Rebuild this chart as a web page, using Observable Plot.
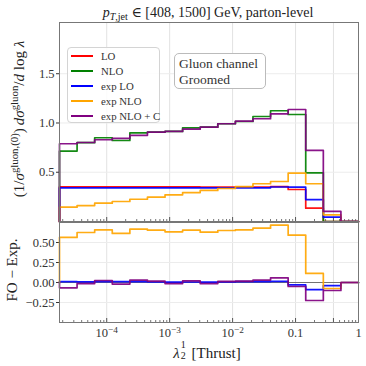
<!DOCTYPE html>
<html><head><meta charset="utf-8">
<script src="https://cdn.jsdelivr.net/npm/d3@7"></script>
<script src="https://cdn.jsdelivr.net/npm/@observablehq/plot@0.6"></script>
<style>
body{margin:0;background:#fff;}
#c{position:relative;width:366px;height:366px;font-family:"Liberation Serif","DejaVu Serif",serif;color:#222;overflow:hidden;}
#c svg{position:absolute;left:0;overflow:visible;background:transparent;}
.lbl{position:absolute;white-space:nowrap;transform:translate(-50%,-50%);}
.rot{transform:translate(-50%,-50%) rotate(-90deg);}
#legend{position:absolute;left:67px;top:47px;width:93px;height:76px;border:1px solid #d4d4d4;border-radius:4px;background:rgba(255,255,255,0.85);box-sizing:border-box;}
.item{position:absolute;left:3px;height:14px;font-size:10.8px;line-height:14px;color:#333;}
.item span.sw{position:absolute;left:0;top:6px;width:22px;height:2px;}
.item span.tx{position:absolute;left:30px;top:0;white-space:nowrap;}
#tbox{position:absolute;left:174px;top:53px;width:92px;height:36px;border:1px solid #bbb;border-radius:5px;box-sizing:border-box;font-size:13.5px;line-height:15.5px;padding:2px 0 0 4px;color:#333;background:#fff;}
sub,sup{font-size:72%;line-height:0;}
.stack{position:relative;display:inline-block;width:8px;height:15px;}
.stack span{position:absolute;left:1px;font-size:10px;line-height:10px;}
</style></head><body><div id="c"></div>
<script>
// bin edges (log-spaced), 17 bins
const edges = [1.778e-5, 3.383e-5, 6.437e-5, 1.225e-4, 2.332e-4, 4.437e-4, 8.443e-4, 1.606e-3, 3.057e-3, 5.817e-3, 1.107e-2, 2.106e-2, 4.008e-2, 7.630e-2, 0.1451, 0.2762, 0.5256, 1];

// top panel series
const LO      = [0.352,0.352,0.352,0.352,0.352,0.352,0.352,0.352,0.350,0.348,0.348,0.350,0.355,0.325,0.135,0.0,0.0];
const NLO     = [0.715,0.800,0.850,0.822,0.900,0.907,0.914,0.951,0.957,0.992,1.015,1.066,1.124,1.086,0.494,0.0,0.0];
const expLO   = [0.342,0.342,0.342,0.342,0.342,0.342,0.342,0.342,0.342,0.342,0.342,0.342,0.350,0.348,0.223,0.044,0.0];
const expNLO  = [0.145,0.162,0.186,0.203,0.226,0.247,0.271,0.294,0.315,0.335,0.355,0.383,0.406,0.492,0.383,0.068,0.0];
const expNLOC = [0.789,0.802,0.830,0.843,0.875,0.907,0.914,0.937,0.957,0.992,1.018,1.043,1.093,1.137,0.721,0.102,0.0];

// bottom panel series (FO - Exp.)
const diffLO   = [0.012,0.008,0.012,0.010,0.010,0.006,0.004,0.006,0.005,0.006,0.010,0.010,0.015,-0.030,-0.090,-0.040,0.0];
const diffNLO  = [0.563,0.625,0.658,0.613,0.667,0.654,0.633,0.654,0.629,0.650,0.658,0.679,0.717,0.592,0.113,-0.075,0.0];
const diffNLOC = [-0.067,-0.013,0.025,-0.020,0.030,0.017,-0.013,0.020,-0.013,0.013,0.017,0.030,0.058,-0.050,-0.225,-0.100,0.0];

const seriesNames  = ["LO", "NLO", "exp LO", "exp NLO", "exp NLO + C"];
const seriesColors = ["#ff0000", "#008000", "#0000ff", "#ffa500", "#800080"];

const xTicks = [1e-4, 1e-3, 1e-2, 0.1, 0.4, 1];
const xTickLabels = ["10^−4", "10^−3", "10^−2", "0.1", "0.4", "1"];
const yTopTicks = [0.5, 1.0, 1.5];
const yBotTicks = [-0.25, 0, 0.25, 0.5];

const title = "<i>p</i><sub><i>T</i>,jet</sub> ∈ [408, 1500] GeV, parton-level";

function steps(vals) {
  const pts = [{x: edges[0], y: 0}];
  vals.forEach((v, i) => pts.push({x: edges[i], y: v}));
  pts.push({x: edges[edges.length - 1], y: 0});
  return pts;
}
const minor = [];
for (let e = -5; e <= -1; e++) for (let m = 2; m <= 9; m++) {
  const v = m * Math.pow(10, e);
  if (v > edges[0] && v < 1 && Math.abs(v - 0.4) > 1e-9) minor.push(v);
}

const W = 366, ML = 59, MR = 8;
const xDomain = [edges[0], 1];
const font = "'Liberation Serif', 'DejaVu Serif', serif";
const lw = 1.7;

function lineMark(vals, color) {
  return Plot.line(steps(vals), {x: "x", y: "y", curve: "step-after", stroke: color, strokeWidth: lw, strokeOpacity: 0.92});
}

const topH = 222;
const topPlot = Plot.plot({
  width: W, height: topH, marginLeft: ML, marginRight: MR, marginTop: 22, marginBottom: 1,
  x: {type: "log", domain: xDomain},
  y: {domain: [0, 2.02]},
  style: {fontFamily: font, fontSize: "12.5px", color: "#333", background: "transparent"},
  marks: [
    Plot.ruleX(xTicks, {stroke: "#e2e2e2", strokeWidth: 1}),
    Plot.ruleY(yTopTicks, {stroke: "#ececec", strokeWidth: 1}),
    Plot.axisY(yTopTicks, {tickSize: 3, tickPadding: 2, tickFormat: d => d.toFixed(1), label: null, fontSize: 12.5}),
    Plot.axisX([], {label: null}),
    Plot.tickX(xTicks, {insetTop: 195, stroke: "#555"}),
    Plot.tickX(minor, {insetTop: 197, stroke: "#777"}),
    lineMark(LO, seriesColors[0]),
    lineMark(NLO, seriesColors[1]),
    lineMark(expLO, seriesColors[2]),
    lineMark(expNLO, seriesColors[3]),
    lineMark(expNLOC, seriesColors[4]),
    Plot.frame({stroke: "#777"})
  ]
});

const botTop = 221, botH = 145;
const botPlot = Plot.plot({
  width: W, height: botH, marginLeft: ML, marginRight: MR, marginTop: 1, marginBottom: 44,
  x: {type: "log", domain: xDomain},
  y: {domain: [-0.5, 0.75]},
  style: {fontFamily: font, fontSize: "12.5px", color: "#333", background: "transparent"},
  marks: [
    Plot.ruleX(xTicks, {stroke: "#e2e2e2", strokeWidth: 1}),
    Plot.ruleY(yBotTicks, {stroke: "#ececec", strokeWidth: 1}),
    Plot.ruleY([0], {stroke: "#555", strokeWidth: 1.2, strokeOpacity: 0.8}),
    Plot.axisY(yBotTicks, {tickSize: 3, tickPadding: 2, tickFormat: d => (d < 0 ? "−" : "") + Math.abs(d).toFixed(2), label: null, fontSize: 12.5}),
    Plot.axisX(xTicks, {tickSize: 0, tickPadding: 6, tickFormat: d => xTickLabels[xTicks.indexOf(d)], label: null, fontSize: 12.5}),
    Plot.tickX(xTicks, {insetTop: 96, stroke: "#555"}),
    Plot.tickX(minor, {insetTop: 98, stroke: "#777"}),
    lineMark(diffLO, seriesColors[2]),
    lineMark(diffNLO, seriesColors[3]),
    lineMark(diffNLOC, seriesColors[4]),
    Plot.frame({stroke: "#777"})
  ]
});

// render superscripts in x tick labels
botPlot.querySelectorAll("text").forEach(t => {
  const s = t.textContent;
  if (s.includes("^")) {
    const [base, exp] = s.split("^");
    t.textContent = "";
    const ns = "http://www.w3.org/2000/svg";
    const a = document.createElementNS(ns, "tspan"); a.textContent = base;
    const b = document.createElementNS(ns, "tspan"); b.textContent = exp;
    b.setAttribute("dy", "-0.45em"); b.setAttribute("font-size", "74%");
    t.appendChild(a); t.appendChild(b);
  }
});

const c = document.getElementById("c");
topPlot.style.top = "0px";
botPlot.style.top = botTop + "px";
c.appendChild(topPlot);
c.appendChild(botPlot);

function addLbl(html, x, y, size, rot) {
  const d = document.createElement("div");
  d.className = "lbl" + (rot ? " rot" : "");
  d.style.left = x + "px"; d.style.top = y + "px"; d.style.fontSize = size + "px";
  d.innerHTML = html;
  c.appendChild(d);
}
addLbl(title, 208, 12, 14, false);
addLbl("(1/<i>σ</i><sup>gluon,(0)</sup>)&thinsp;<i>dσ</i><sup>gluon</sup>/<i>d</i> log <i>λ</i>", 19, 119, 15, true);
addLbl("FO − Exp.", 12, 270, 15, true);
addLbl("<i>λ</i><span class='stack'><span style='top:-3px'>1</span><span style='top:8px'>2</span></span> [Thrust]", 207, 352, 15, false);

const lg = document.createElement("div");
lg.id = "legend";
seriesNames.forEach((n, i) => {
  const it = document.createElement("div");
  it.className = "item";
  it.style.top = (0.5 + 15.1 * i) + "px";
  it.innerHTML = `<span class="sw" style="background:${seriesColors[i]}"></span><span class="tx">${n}</span>`;
  lg.appendChild(it);
});
c.appendChild(lg);

const tb = document.createElement("div");
tb.id = "tbox";
tb.innerHTML = "Gluon channel<br>Groomed";
c.appendChild(tb);
</script>
</body></html>
